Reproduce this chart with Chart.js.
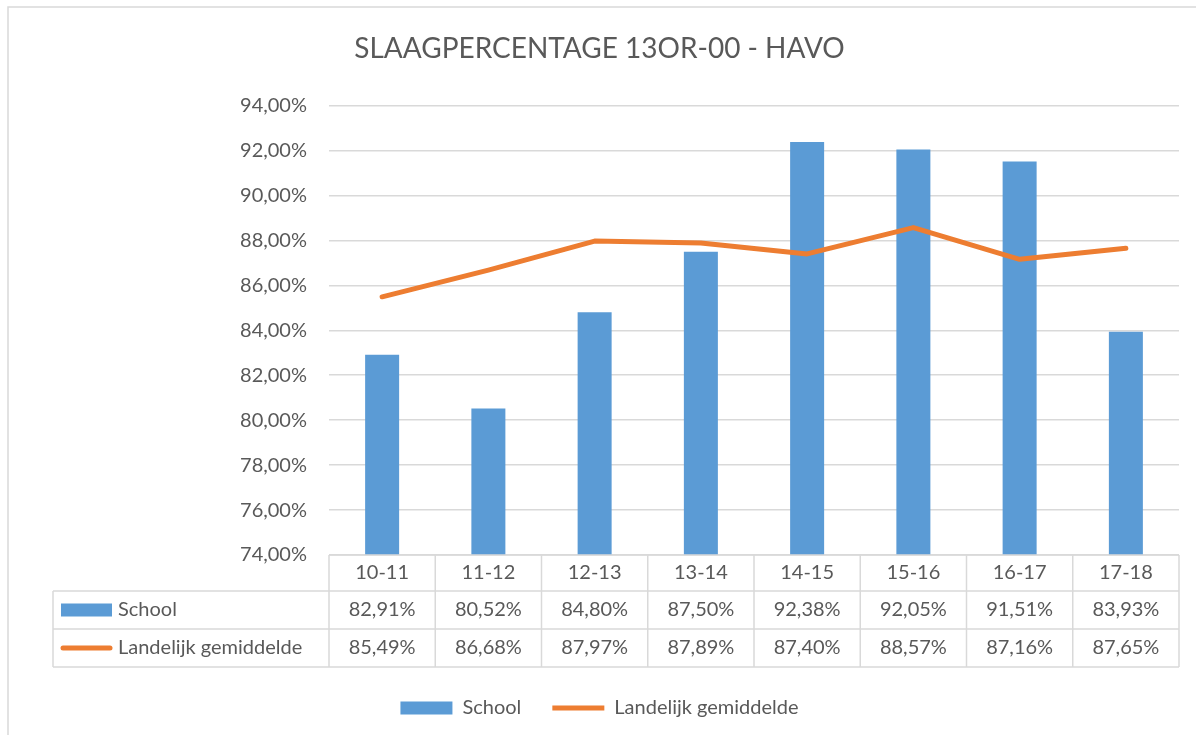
<!DOCTYPE html>
<html>
<head>
<meta charset="utf-8">
<script src="https://cdn.jsdelivr.net/npm/chart.js@4/dist/chart.umd.min.js"></script>
<style>
  html, body { margin: 0; padding: 0; background: #fff; }
  #wrap { width: 1196px; height: 735px; position: relative; }
</style>
</head>
<body>
<div id="wrap"><canvas id="chart"></canvas></div>
<script>
// chart data
const categories = ['10-11', '11-12', '12-13', '13-14', '14-15', '15-16', '16-17', '17-18'];
const schoolValues = [82.91, 80.52, 84.80, 87.50, 92.38, 92.05, 91.51, 83.93];
const landelijkValues = [85.49, 86.68, 87.97, 87.89, 87.40, 88.57, 87.16, 87.65];
const yMin = 74, yMax = 94, yStep = 2;

const textColor = '#595959';
const lineCol = '#d9d9d9';
const blue = '#5B9BD5';
const orange = '#ED7D31';

Chart.defaults.font.family = 'Lato, "Open Sans", sans-serif';
Chart.defaults.color = textColor;

function pct(v) {
  return v.toFixed(2).replace('.', ',') + '%';
}

// draws the outer frame + the data table under the plot
const tablePlugin = {
  id: 'dataTable',
  beforeDraw(chart) {
    const ctx = chart.ctx;
    ctx.save();
    ctx.strokeStyle = lineCol;
    ctx.lineWidth = 1.5;
    ctx.beginPath();
    ctx.moveTo(8, chart.height);
    ctx.lineTo(8, 7);
    ctx.lineTo(chart.width, 7);
    ctx.stroke();
    ctx.restore();
  },
  afterDraw(chart) {
    const ctx = chart.ctx;
    const x = chart.scales.x;
    const area = chart.chartArea;
    const n = categories.length;
    const colW = x.getPixelForValue(1) - x.getPixelForValue(0);
    const left = x.getPixelForValue(0) - colW / 2;
    const right = x.getPixelForValue(n - 1) + colW / 2;
    const rows = [area.bottom, area.bottom + 36, area.bottom + 74, area.bottom + 112];
    const tableLeft = 53;

    ctx.save();
    ctx.strokeStyle = lineCol;
    ctx.lineWidth = 1.5;
    ctx.beginPath();
    // horizontal lines
    ctx.moveTo(left, rows[0]); ctx.lineTo(right, rows[0]);
    for (let r = 1; r < 4; r++) {
      ctx.moveTo(tableLeft, rows[r]); ctx.lineTo(right, rows[r]);
    }
    // vertical lines
    for (let i = 0; i <= n; i++) {
      const px = left + i * colW;
      ctx.moveTo(px, rows[0]); ctx.lineTo(px, rows[3]);
    }
    ctx.moveTo(tableLeft, rows[1]); ctx.lineTo(tableLeft, rows[3]);
    ctx.stroke();

    ctx.fillStyle = textColor;
    ctx.font = '20px Lato, "Open Sans", sans-serif';
    ctx.textAlign = 'center';
    ctx.textBaseline = 'middle';
    const mid = r => (rows[r] + rows[r + 1]) / 2;
    categories.forEach((c, i) => {
      const cx = x.getPixelForValue(i);
      ctx.fillText(c, cx, mid(0));
      ctx.fillText(pct(schoolValues[i]), cx, mid(1));
      ctx.fillText(pct(landelijkValues[i]), cx, mid(2));
    });

    // series keys
    const keyX = tableLeft + 8, keyW = 51;
    ctx.fillStyle = blue;
    ctx.fillRect(keyX, mid(1) - 6.5, keyW, 13);
    ctx.strokeStyle = orange;
    ctx.lineWidth = 5;
    ctx.lineCap = 'round';
    ctx.beginPath();
    ctx.moveTo(keyX + 2, mid(2)); ctx.lineTo(keyX + keyW - 2, mid(2));
    ctx.stroke();

    ctx.fillStyle = textColor;
    ctx.textAlign = 'left';
    ctx.fillText(chart.data.datasets[0].label, keyX + keyW + 6, mid(1));
    ctx.fillText(chart.data.datasets[1].label, keyX + keyW + 6, mid(2));
    ctx.restore();
  }
};

const chart = new Chart(document.getElementById('chart'), {
  type: 'bar',
  data: {
    labels: categories,
    datasets: [
      {
        type: 'bar',
        label: 'School',
        data: schoolValues,
        backgroundColor: blue,
        borderWidth: 0,
        categoryPercentage: 1,
        barPercentage: 0.32,
        order: 2
      },
      {
        type: 'line',
        label: 'Landelijk gemiddelde',
        data: landelijkValues,
        borderColor: orange,
        backgroundColor: orange,
        borderWidth: 5,
        borderCapStyle: 'round',
        borderJoinStyle: 'round',
        pointRadius: 0,
        tension: 0,
        order: 1
      }
    ]
  },
  options: {
    responsive: true,
    maintainAspectRatio: false,
    animation: false,
    layout: { padding: { left: 20, right: 17, top: 0, bottom: 7 } },
    scales: {
      x: {
        grid: { display: false },
        border: { display: false },
        ticks: { display: false },
        afterFit: s => { s.height = 112; }
      },
      y: {
        min: yMin,
        max: yMax,
        grid: { color: lineCol, lineWidth: 1.5, drawTicks: false },
        border: { display: false },
        ticks: {
          stepSize: yStep,
          padding: 22,
          color: textColor,
          font: { size: 20 },
          callback: v => pct(v)
        },
        afterFit: s => { s.width = 309; }
      }
    },
    plugins: {
      title: {
        display: true,
        text: 'SLAAGPERCENTAGE 13OR-00 - HAVO',
        color: textColor,
        font: { size: 28, weight: 'normal' },
        padding: { top: 32, bottom: 40 }
      },
      legend: {
        position: 'bottom',
        labels: {
          usePointStyle: true,
          pointStyleWidth: 52,
          boxHeight: 13,
          padding: 31,
          color: textColor,
          font: { size: 20 },
          sort: (a, b) => a.datasetIndex - b.datasetIndex,
          generateLabels: c => Chart.defaults.plugins.legend.labels.generateLabels(c).map(item => {
            item.pointStyle = c.data.datasets[item.datasetIndex].type === 'line' ? 'line' : 'rect';
            return item;
          })
        }
      },
      tooltip: { enabled: false }
    }
  },
  plugins: [tablePlugin]
});
</script>
</body>
</html>
